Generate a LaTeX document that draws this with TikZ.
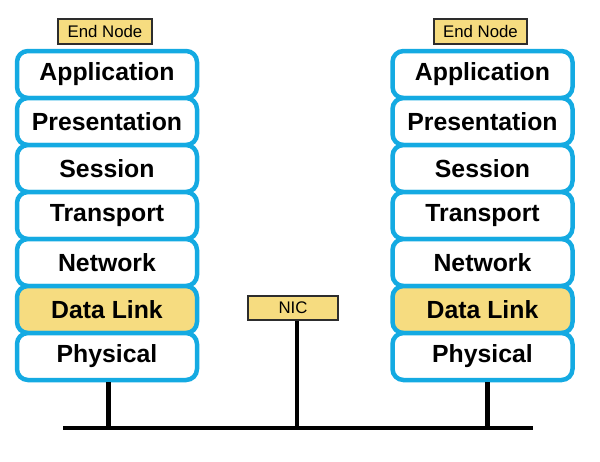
\documentclass[tikz,border=0pt]{standalone}
\usepackage{fontspec}
\setmainfont{Liberation Sans}
\definecolor{osiblue}{RGB}{20,170,226}
\definecolor{niccol}{RGB}{246,220,128}
\definecolor{tagline}{RGB}{45,45,45}
\begin{document}
\begin{tikzpicture}[x=1pt,y=-1pt,
  layer/.style={draw=osiblue, line width=4.5pt, fill=white, rounded corners=11pt,
    minimum width=180pt, minimum height=47pt, inner sep=0pt,
    font=\fontsize{24.8}{27}\selectfont\bfseries},
  dlayer/.style={layer, fill=niccol},
  tag/.style={draw=tagline, line width=1.3pt, fill=niccol, inner sep=0pt,
    minimum height=25pt, font=\fontsize{16.8}{18}\selectfont},
  wire/.style={line width=4.5pt, black}]
\useasboundingbox (0,0) rectangle (600,461);
% left stack
\node[layer]  (LA) at (107,74.5)  {Application};
\node[layer]  (LP) at (107,121.5) {Presentation};
\node[layer]  (LS) at (107,168.5) {Session};
\node[layer]  (LT) at (107,215.5) {Transport};
\node[layer]  (LN) at (107,262.5) {Network};
\node[dlayer] (LD) at (107,309.5) {Data Link};
\node[layer]  (LH) at (107,356.5) {Physical};
% right stack
\node[layer]  (RA) at (482.5,74.5)  {Application};
\node[layer]  (RP) at (482.5,121.5) {Presentation};
\node[layer]  (RS) at (482.5,168.5) {Session};
\node[layer]  (RT) at (482.5,215.5) {Transport};
\node[layer]  (RN) at (482.5,262.5) {Network};
\node[dlayer] (RD) at (482.5,309.5) {Data Link};
\node[layer]  (RH) at (482.5,356.5) {Physical};
% tags
\node[tag, minimum width=94pt] (LE) at (105,31.5) {End Node};
\node[tag, minimum width=93pt] (RE) at (480.5,31.5) {End Node};
\node[tag, minimum width=90pt, minimum height=24pt] (NIC) at (293,308) {NIC};
% bus
\coordinate (B1) at (63,428);
\coordinate (B2) at (533,428);
\draw[wire] (B1) -- (B2);
\draw[wire] ([xshift=1.5pt]LH.south) -- ([xshift=1.5pt]LH.south |- B1);
\draw[wire] ([xshift=5pt]RH.south) -- ([xshift=5pt]RH.south |- B1);
\draw[wire] ([xshift=4pt]NIC.south) -- ([xshift=4pt]NIC.south |- B1);
\end{tikzpicture}
\end{document}
